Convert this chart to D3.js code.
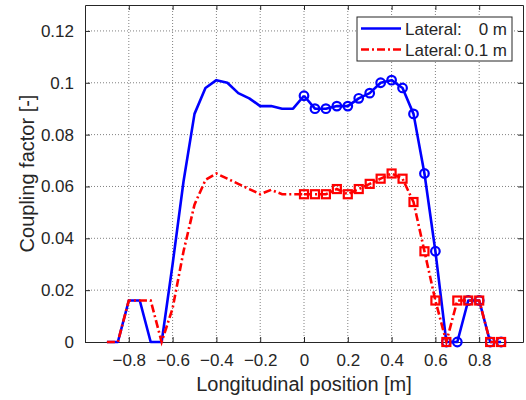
<!DOCTYPE html>
<html>
<head>
<meta charset="utf-8">
<script src="https://cdn.jsdelivr.net/npm/d3@7"></script>
<style>
    body { margin: 0; background: #fff; }
    text { font-family: "Liberation Sans", Arial, sans-serif; fill: #262626; }
</style>
</head>
<body>
<div id="chart"></div>
<script>
// positions along the track [m]
var xLeft = [-0.9, -0.85, -0.8, -0.75, -0.7, -0.65, -0.6, -0.55, -0.5, -0.45, -0.4, -0.35, -0.3, -0.25, -0.2, -0.15, -0.1, -0.05, 0];
var xRight = [0, 0.05, 0.1, 0.15, 0.2, 0.25, 0.3, 0.35, 0.4, 0.45, 0.5, 0.55, 0.6, 0.65, 0.7, 0.75, 0.8, 0.85, 0.9];

// lateral 0 m
var blueLeft = [0, 0, 0.016, 0.016, 0, 0, 0.030, 0.062, 0.088, 0.098, 0.101, 0.100, 0.096, 0.094, 0.091, 0.091, 0.090, 0.090, 0.095];
var blueRight = [0.095, 0.090, 0.090, 0.091, 0.091, 0.094, 0.096, 0.100, 0.101, 0.098, 0.088, 0.065, 0.035, 0, 0, 0.016, 0.016, 0, 0];

// lateral 0.1 m
var redLeft = [0, 0, 0.016, 0.016, 0.016, 0, 0.013, 0.035, 0.053, 0.0625, 0.065, 0.063, 0.061, 0.059, 0.057, 0.0587, 0.057, 0.057, 0.057];
var redRight = [0.057, 0.057, 0.057, 0.059, 0.057, 0.059, 0.061, 0.063, 0.065, 0.063, 0.054, 0.035, 0.016, 0, 0.016, 0.016, 0.016, 0, 0];

var xTicks = [-0.8, -0.6, -0.4, -0.2, 0, 0.2, 0.4, 0.6, 0.8];
var yTicks = [0, 0.02, 0.04, 0.06, 0.08, 0.1, 0.12];
var seriesNames = ["Lateral:", "Lateral:"];
var seriesValues = ["0 m", "0.1 m"];

var svgWidth = 526;
var svgHeight = 400;
var margin = { top: 5, right: 3, bottom: 58, left: 85 };
var width = svgWidth - margin.left - margin.right;
var height = svgHeight - margin.top - margin.bottom;

var svg = d3.select("#chart")
    .append("svg")
    .attr("width", svgWidth)
    .attr("height", svgHeight);

var chartGroup = svg.append("g")
    .attr("transform", `translate(${margin.left}, ${margin.top})`);

var x = d3.scaleLinear().domain([-1, 1]).range([0, width]);
var y = d3.scaleLinear().domain([0, 0.13]).range([height, 0]);

// dotted grid
chartGroup.append("g").selectAll("line")
    .data(xTicks)
    .enter()
    .append("line")
    .attr("x1", d => x(d)).attr("x2", d => x(d))
    .attr("y1", 0).attr("y2", height)
    .attr("stroke", "#808080")
    .attr("stroke-width", 1)
    .attr("stroke-dasharray", "1,2");

chartGroup.append("g").selectAll("line")
    .data(yTicks.filter(d => d > 0))
    .enter()
    .append("line")
    .attr("x1", 0).attr("x2", width)
    .attr("y1", d => y(d)).attr("y2", d => y(d))
    .attr("stroke", "#808080")
    .attr("stroke-width", 1)
    .attr("stroke-dasharray", "1,2");

// axes, ticks pointing inwards
var bottomAxis = d3.axisBottom(x).tickValues(xTicks).tickSizeInner(-5).tickSizeOuter(0).tickPadding(12).tickFormat(d3.format("~g"));
var topAxis = d3.axisTop(x).tickValues(xTicks).tickSizeInner(-5).tickSizeOuter(0).tickFormat("");
var leftAxis = d3.axisLeft(y).tickValues(yTicks).tickSizeInner(-5).tickSizeOuter(0).tickPadding(11).tickFormat(d3.format("~g"));
var rightAxis = d3.axisRight(y).tickValues(yTicks).tickSizeInner(-5).tickSizeOuter(0).tickFormat("");

chartGroup.append("g").attr("class", "axis").attr("transform", `translate(0, ${height})`).call(bottomAxis);
chartGroup.append("g").attr("class", "axis").call(topAxis);
chartGroup.append("g").attr("class", "axis").call(leftAxis);
chartGroup.append("g").attr("class", "axis").attr("transform", `translate(${width}, 0)`).call(rightAxis);

chartGroup.selectAll(".axis path").attr("stroke", "#262626");
chartGroup.selectAll(".axis line").attr("stroke", "#262626");
chartGroup.selectAll(".axis text")
    .style("font-size", "17px")
    .style("font-family", "'Liberation Sans', Arial, sans-serif")
    .attr("fill", "#262626");

// lines
var line = d3.line()
    .x(d => x(d[0]))
    .y(d => y(d[1]));

function pairs(xs, ys) {
    return xs.map((v, i) => [v, ys[i]]);
}

var blue = "#0000ff";
var red = "#ff0000";

chartGroup.append("path")
    .datum(pairs(xLeft, blueLeft))
    .attr("d", line)
    .attr("fill", "none")
    .attr("stroke", blue)
    .attr("stroke-width", 2.6)
    .attr("stroke-linejoin", "round");

chartGroup.append("path")
    .datum(pairs(xRight, blueRight))
    .attr("d", line)
    .attr("fill", "none")
    .attr("stroke", blue)
    .attr("stroke-width", 2.6)
    .attr("stroke-linejoin", "round");

chartGroup.append("g").selectAll("circle")
    .data(pairs(xRight, blueRight))
    .enter()
    .append("circle")
    .attr("cx", d => x(d[0]))
    .attr("cy", d => y(d[1]))
    .attr("r", 4.3)
    .attr("fill", "none")
    .attr("stroke", blue)
    .attr("stroke-width", 2.2);

chartGroup.append("path")
    .datum(pairs(xLeft, redLeft))
    .attr("d", line)
    .attr("fill", "none")
    .attr("stroke", red)
    .attr("stroke-width", 2.6)
    .attr("stroke-dasharray", "8,3,2,3");

chartGroup.append("path")
    .datum(pairs(xRight, redRight))
    .attr("d", line)
    .attr("fill", "none")
    .attr("stroke", red)
    .attr("stroke-width", 2.6)
    .attr("stroke-dasharray", "8,3,2,3");

chartGroup.append("g").selectAll("rect")
    .data(pairs(xRight, redRight))
    .enter()
    .append("rect")
    .attr("x", d => x(d[0]) - 4)
    .attr("y", d => y(d[1]) - 4)
    .attr("width", 8)
    .attr("height", 8)
    .attr("fill", "none")
    .attr("stroke", red)
    .attr("stroke-width", 2.2);

// axis labels
chartGroup.append("text")
    .attr("x", width / 2)
    .attr("y", height + 49)
    .attr("text-anchor", "middle")
    .style("font-size", "20px")
    .text("Longitudinal position [m]");

chartGroup.append("text")
    .attr("transform", "rotate(-90)")
    .attr("x", -height / 2)
    .attr("y", -margin.left + 34)
    .attr("text-anchor", "middle")
    .style("font-size", "20px")
    .text("Coupling factor [-]");

// legend
var legend = svg.append("g").attr("transform", "translate(357, 17)");
legend.append("rect")
    .attr("width", 155)
    .attr("height", 44)
    .attr("fill", "#fff")
    .attr("stroke", "#262626")
    .attr("stroke-width", 1);

var legendStyles = [{ color: blue, dash: null }, { color: red, dash: "8,3,2,3" }];
seriesNames.forEach(function(name, i) {
    var rowY = 11.5 + i * 21;
    legend.append("line")
        .attr("x1", 4).attr("x2", 44)
        .attr("y1", rowY).attr("y2", rowY)
        .attr("stroke", legendStyles[i].color)
        .attr("stroke-width", 2.6)
        .attr("stroke-dasharray", legendStyles[i].dash);
    legend.append("text")
        .attr("x", 48)
        .attr("y", rowY + 6)
        .style("font-size", "17px")
        .text(name);
    legend.append("text")
        .attr("x", 150)
        .attr("y", rowY + 6)
        .attr("text-anchor", "end")
        .style("font-size", "17px")
        .text(seriesValues[i]);
});
</script>
</body>
</html>
